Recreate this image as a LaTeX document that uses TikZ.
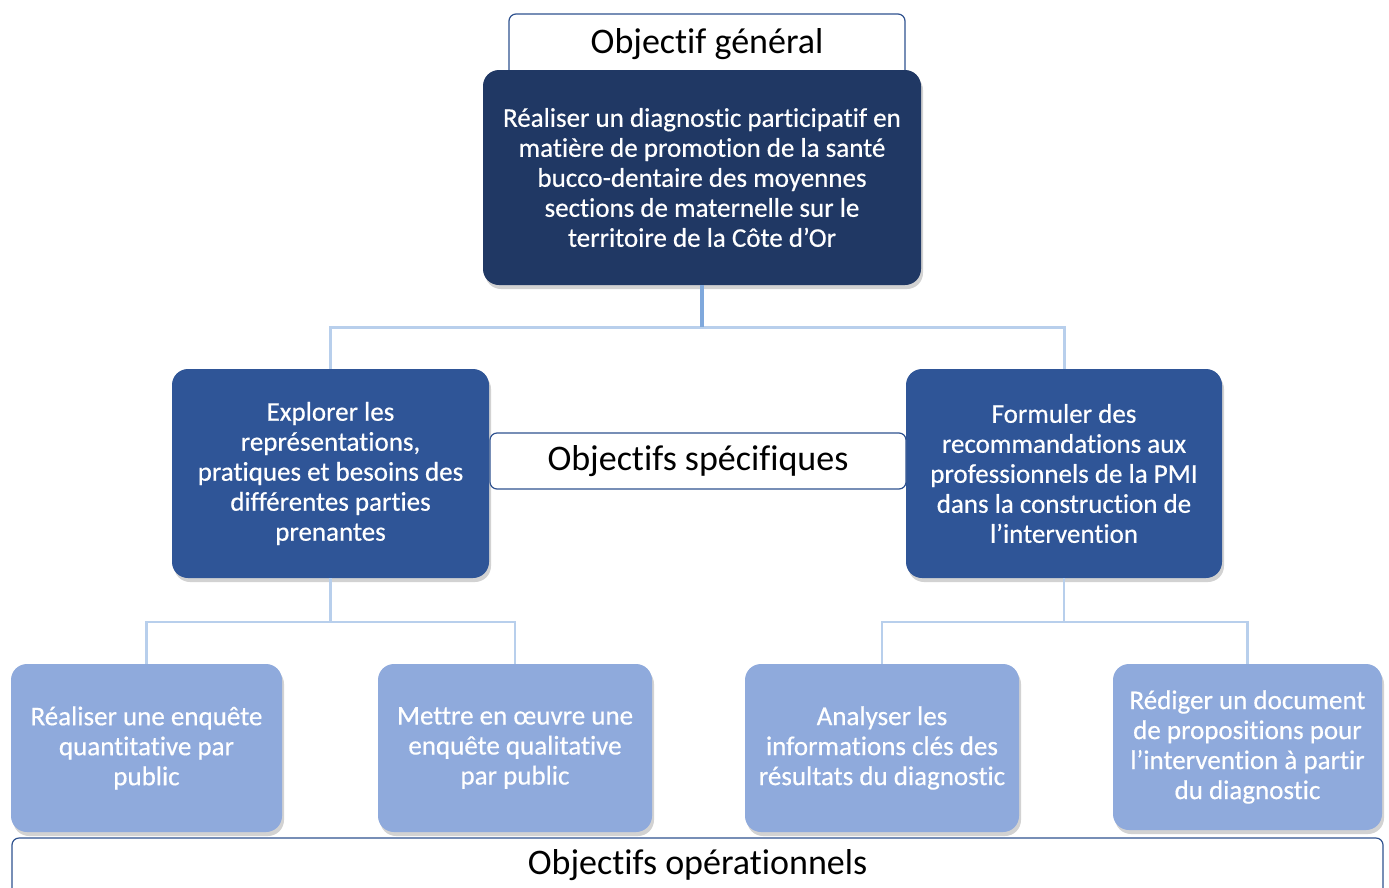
\documentclass[tikz,border=0pt]{standalone}
\usepackage{fontspec}
\setmainfont{Carlito}[Ligatures=CommonOff]
\newfontfamily\boxfont{Carlito}[FakeBold=0.5,Ligatures=CommonOff]
\usetikzlibrary{positioning,shadows}
\definecolor{navy}{HTML}{203864}
\definecolor{midblue}{HTML}{2F5597}
\definecolor{lightblue}{HTML}{8FAADC}
\definecolor{frameblue}{HTML}{2F528F}
\definecolor{stemblue}{HTML}{7FA8DC}
\definecolor{linkblue}{HTML}{B8CFEC}
\tikzset{
  objbox/.style={
    rectangle, rounded corners=16pt, align=center, text=white,
    inner sep=0pt, font=\boxfont\fontsize{27}{30}\selectfont,
    drop shadow={shadow xshift=2pt, shadow yshift=-4pt, opacity=0.35}
  },
  genbox/.style={objbox, fill=navy},
  specbox/.style={objbox, fill=midblue},
  opbox/.style={objbox, fill=lightblue},
  levelbox/.style={
    rectangle, rounded corners=7pt, draw=frameblue, line width=1.2pt,
    fill=white, inner sep=0pt, font=\fontsize{36}{40}\selectfont
  },
  conn/.style={draw=linkblue, line width=3pt},
  stem/.style={draw=stemblue, line width=3.5pt}
}

\begin{document}
\begin{tikzpicture}[x=1pt,y=-1pt]
\clip (0,0) rectangle (1389,887);
\fill[white] (0,0) rectangle (1389,887);

% niveau 1
\node[levelbox, minimum width=396pt, minimum height=70pt, text depth=17pt]
  (lgen) at (707,49) {Objectif général};
\node[genbox, minimum width=438pt, minimum height=215pt] (gen) at (702,177.5)
  {Réaliser un diagnostic participatif en\\matière de promotion de la santé\\
   bucco-dentaire des moyennes\\sections de maternelle sur le\\territoire de la Côte d’Or};

% niveau 2
\node[specbox, minimum width=317pt, minimum height=209pt] (spec1) at (330.5,473.5)
  {Explorer les\\représentations,\\pratiques et besoins des\\différentes parties\\prenantes};
\node[specbox, minimum width=316pt, minimum height=209pt] (spec2) at (1064,473.5)
  {Formuler des\\recommandations aux\\professionnels de la PMI\\dans la construction de\\l’intervention};
\node[levelbox, minimum width=416pt, minimum height=56pt] (lspec) at (698,461)
  {Objectifs spécifiques};

\path (gen.south) ++(0,42) coordinate (j1);
\draw[conn] (spec1.north) |- (j1) -| (spec2.north);
\draw[stem] (gen.south) -- (j1);

% niveau 3
\node[levelbox, minimum width=1371pt, minimum height=62pt, text depth=14pt]
  (lop) at (697.5,869) {Objectifs opérationnels};

\node[opbox, minimum width=271pt, minimum height=168pt] (op1) at (146.5,748)
  {Réaliser une enquête\\quantitative par\\public};
\node[opbox, minimum width=274pt, minimum height=168pt] (op2) at (515,748)
  {Mettre en œuvre une\\enquête qualitative\\par public};
\node[opbox, minimum width=274pt, minimum height=168pt] (op3) at (882,748)
  {Analyser les\\informations clés des\\résultats du diagnostic};
\node[opbox, minimum width=269pt, minimum height=166pt] (op4) at (1247.5,747)
  {Rédiger un document\\de propositions pour\\l’intervention à partir\\du diagnostic};

\path (spec1.south) ++(0,44) coordinate (j2);
\path (spec2.south) ++(0,44) coordinate (j3);
\draw[conn, line width=2.5pt] (op1.north) |- (j2) -| (op2.north);
\draw[conn, line width=2.5pt] (op3.north) |- (j3) -| (op4.north);
\draw[conn, line width=2.5pt] (spec1.south) -- (j2);
\draw[conn, line width=2.5pt] (spec2.south) -- (j3);
\end{tikzpicture}
\end{document}
